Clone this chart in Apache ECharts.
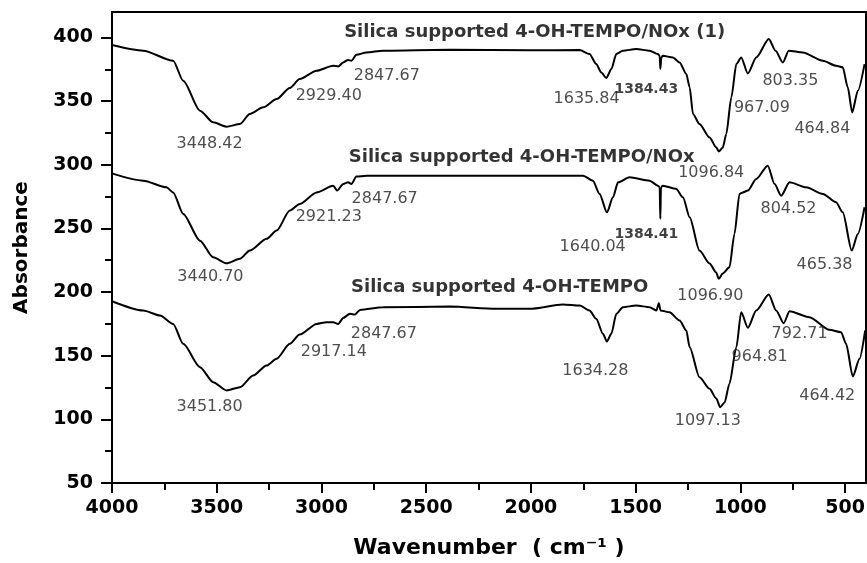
<!DOCTYPE html>
<html>
<head>
<meta charset="utf-8">
<script src="https://cdn.jsdelivr.net/npm/echarts@6/dist/echarts.min.js"></script>
<style>
  html, body { margin: 0; padding: 0; background: #fff; }
  #chart { width: 867px; height: 563px; }
</style>
</head>
<body>
<div id="chart"></div>
<script>
// ---- tick values ----
const wavenumberTicks = [4000, 3500, 3000, 2500, 2000, 1500, 1000, 500];
const wavenumberMinorTicks = [3750, 3250, 2750, 2250, 1750, 1250, 750];
const absorbanceTicks = [50, 100, 150, 200, 250, 300, 350, 400];
const absorbanceMinorTicks = [75, 125, 175, 225, 275, 325, 375];

// ---- series names ----
const seriesNames = [
  'Silica supported 4-OH-TEMPO/NOx (1)',
  'Silica supported 4-OH-TEMPO/NOx',
  'Silica supported 4-OH-TEMPO'
];

// ---- spectrum 1: 4-OH-TEMPO/NOx (1) ----
const nox1Wn = [4000,3851,3708,3660,3580,3517,3453,3389,3342,3278,3214,3151,3104,3023,2944,2920,2896,2873,2857,2833,2785,2706,2387,2000,1767,1720,1688,1664,1640,1616,1592,1561,1497,1433,1394,1385,1382,1377,1370,1322,1290,1258,1242,1226,1195,1147,1115,1103,1084,1067,1043,1019,996,964,924,864,832,797,769,702,606,543,511,487,466,439,407];
const nox1Abs = [394.0,389.6,381.7,366.0,342.5,333.3,329.9,332.0,339.9,345.1,351.6,360.3,367.3,373.9,377.8,377.2,380.4,382.3,381.7,386.4,388.2,389.6,390.3,390.0,390.1,387.0,379.1,372.5,368.1,375.2,387.0,389.6,390.9,389.6,387.0,385.6,375.2,384.3,385.6,384.3,380.4,371.3,360.8,339.9,332.0,321.5,313.7,310.5,313.4,324.2,352.9,379.1,384.3,371.7,384.3,398.7,389.6,380.4,389.6,388.2,381.7,377.8,376.5,360.8,341.1,358.2,379.1];

// ---- spectrum 2: 4-OH-TEMPO/NOx ----
const noxWn = [4000,3851,3740,3708,3660,3580,3517,3453,3389,3342,3262,3214,3151,3104,3023,2944,2925,2896,2873,2857,2833,2785,2387,2000,1751,1704,1672,1637,1608,1584,1529,1433,1394,1385,1382,1379,1370,1306,1274,1242,1195,1147,1115,1103,1084,1052,1028,1004,988,964,924,869,837,805,765,686,606,543,511,468,439,407];
const noxAbs = [293.2,287.5,282.3,278.3,261.4,240.4,227.3,222.6,226.1,232.6,241.8,248.3,264.0,269.2,278.3,283.6,279.7,284.9,286.2,284.9,290.7,291.4,291.4,291.4,291.4,287.5,277.1,262.6,274.4,286.2,290.1,287.5,283.6,282.3,257.5,282.3,283.6,281.0,274.4,258.7,232.6,222.4,215.3,210.4,214.6,219.5,245.7,277.0,278.3,279.7,288.9,299.3,285.0,275.7,286.2,282.3,277.1,270.5,262.6,232.6,245.7,266.6];

// ---- spectrum 3: 4-OH-TEMPO ----
const tempoWn = [4000,3851,3771,3708,3660,3580,3517,3453,3389,3326,3262,3214,3151,3104,3023,2976,2944,2920,2896,2864,2840,2816,2706,2387,2165,2006,1847,1767,1720,1688,1656,1637,1616,1592,1561,1497,1433,1401,1389,1381,1338,1290,1258,1242,1195,1147,1115,1096,1075,1052,1019,996,964,924,864,829,793,765,670,575,519,495,463,431,404];
const tempoAbs = [192.8,185.5,181.6,175.0,159.3,141.0,129.2,122.7,125.3,134.5,142.3,147.6,159.3,166.6,175.0,176.3,176.3,175.0,179.7,182.9,182.3,186.0,188.1,188.6,186.8,186.8,190.2,189.4,185.5,179.0,167.2,161.1,167.2,182.9,188.1,189.4,188.1,185.5,191.2,185.5,184.1,177.6,169.8,156.7,133.1,124.0,116.4,109.6,113.3,128.0,156.7,184.1,171.9,185.5,198.0,185.5,175.5,184.9,180.2,170.3,168.5,159.3,133.7,147.6,169.8];

// ---- annotation anchors (text, wavenumber, absorbance) ----
const titleAnchors = [
  [seriesNames[0], 1982, 403.9],
  [seriesNames[1], 2044, 305.8],
  [seriesNames[2], 2149, 203.5]
];
const nox1Peaks = [
  ['3448.42', 3534, 316.8], ['2929.40', 2965, 354.2], ['2847.67', 2688, 369.9],
  ['1635.84', 1734, 351.6], ['1096.84', 1139, 294.0], ['967.09', 897, 345.1],
  ['803.35', 761, 366.0], ['464.84', 608, 328.1]
];
const noxPeaks = [
  ['3440.70', 3530, 212.2], ['2921.23', 2965, 259.3], ['2847.67', 2698, 273.2],
  ['1640.04', 1705, 235.2], ['1096.90', 1143, 197.3], ['804.52', 770, 265.3],
  ['465.38', 598, 221.6]
];
const tempoPeaks = [
  ['3451.80', 3534, 109.6], ['2917.14', 2941, 152.7], ['2847.67', 2702, 167.2],
  ['1634.28', 1692, 138.4], ['1097.13', 1155, 99.1], ['964.81', 908, 148.8],
  ['792.71', 717, 167.2], ['464.42', 585, 118.8]
];
const nitrateLabels = [
  ['1384.43', 1449, 359.5], ['1384.41', 1449, 245.7]
];

// ---------------------------------------------------------
const FONT = 'DejaVu Sans';
function pairs(xs, ys) { return xs.map((x, i) => [x, ys[i]]); }
function lineSeries(name, xs, ys) {
  return {
    name: name, type: 'line', xAxisIndex: 0, yAxisIndex: 0,
    data: pairs(xs, ys), showSymbol: false, symbol: 'none',
    smooth: 0.25, smoothMonotone: 'x',
    lineStyle: { color: '#000', width: 2 }, silent: true, z: 3
  };
}
function textSeries(list, style) {
  return {
    type: 'scatter', xAxisIndex: 0, yAxisIndex: 0, silent: true, z: 5,
    symbol: 'circle', symbolSize: 1, itemStyle: { color: 'rgba(0,0,0,0)' },
    data: list.map(a => ({ value: [a[1], a[2]], name: a[0] })),
    label: Object.assign({
      show: true, position: 'inside', formatter: p => p.name,
      align: 'center', verticalAlign: 'middle', fontFamily: FONT
    }, style)
  };
}

const tickLine = { color: '#000', width: 2 };
const plain = v => String(v);
const option = {
  animation: false,
  backgroundColor: '#fff',
  grid: {
    left: 112, right: 1, top: 12, bottom: 80, show: true,
    borderColor: '#000', borderWidth: 2,
    containLabel: false, outerBoundsMode: 'none'
  },
  xAxis: [
    {
      type: 'value', min: 400, max: 4000, inverse: true, position: 'bottom',
      axisLine: { show: true, lineStyle: tickLine },
      axisTick: { show: true, customValues: wavenumberTicks, length: 10, lineStyle: tickLine },
      axisLabel: { customValues: wavenumberTicks, formatter: plain, margin: 16, fontFamily: FONT, fontWeight: 'bold', fontSize: 19, color: '#000' },
      splitLine: { show: false },
      name: 'Wavenumber  ( cm⁻¹ )', nameLocation: 'middle', nameGap: 54,
      nameTextStyle: { fontFamily: FONT, fontWeight: 'bold', fontSize: 22, color: '#000' }
    },
    {
      type: 'value', min: 400, max: 4000, inverse: true, position: 'bottom',
      axisLine: { show: false },
      axisTick: { show: true, customValues: wavenumberMinorTicks, length: 7, lineStyle: tickLine },
      axisLabel: { show: false }, splitLine: { show: false }
    }
  ],
  yAxis: [
    {
      type: 'value', min: 50, max: 420, position: 'left',
      axisLine: { show: true, lineStyle: tickLine },
      axisTick: { show: true, customValues: absorbanceTicks, length: 11, lineStyle: tickLine },
      axisLabel: { customValues: absorbanceTicks, formatter: plain, margin: 19, fontFamily: FONT, fontWeight: 'bold', fontSize: 19, color: '#000' },
      splitLine: { show: false },
      name: 'Absorbance', nameLocation: 'middle', nameGap: 80,
      nameTextStyle: { fontFamily: FONT, fontWeight: 'bold', fontSize: 20, color: '#000' }
    },
    {
      type: 'value', min: 50, max: 420, position: 'left',
      axisLine: { show: false },
      axisTick: { show: true, customValues: absorbanceMinorTicks, length: 7, lineStyle: tickLine },
      axisLabel: { show: false }, splitLine: { show: false }
    }
  ],
  series: [
    lineSeries(seriesNames[0], nox1Wn, nox1Abs),
    lineSeries(seriesNames[1], noxWn, noxAbs),
    lineSeries(seriesNames[2], tempoWn, tempoAbs),
    textSeries(titleAnchors, { fontSize: 18, fontWeight: 'bold', color: '#000' }),
    textSeries(nox1Peaks.concat(noxPeaks, tempoPeaks), { fontSize: 16, color: '#222' }),
    textSeries(nitrateLabels, { fontSize: 14, fontWeight: 'bold', color: '#111' })
  ]
};

const chart = echarts.init(document.getElementById('chart'), null, { renderer: 'canvas' });
chart.setOption(option);
</script>
</body>
</html>
